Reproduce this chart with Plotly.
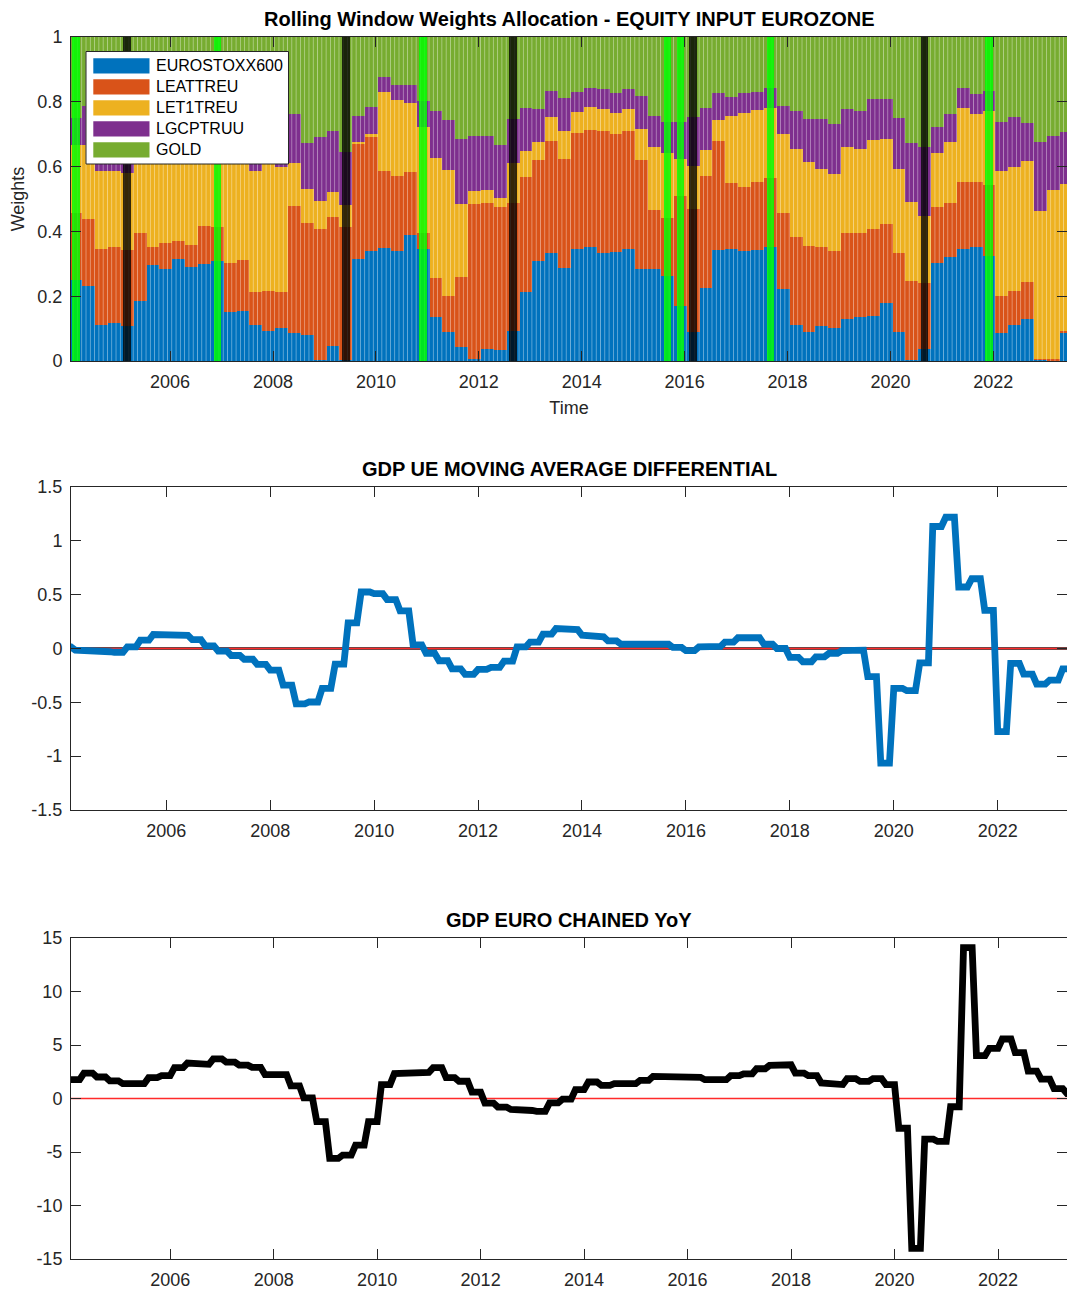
import numpy as np
import pandas as pd
import plotly.graph_objects as go

# ------------------------------------------------------------------
# Data
# ------------------------------------------------------------------
asset_names = ["EUROSTOXX600", "LEATTREU", "LET1TREU", "LGCPTRUU", "GOLD"]
asset_colors = ["#0072BD", "#D95319", "#EDB120", "#7E2F8E", "#77AC30"]

# quarterly rebalancing: each allocation is held three months (Feb-Apr, May-Jul, ...)
rebalance_dates = pd.date_range("2004-03-01", periods=78, freq="3MS")

w_eurostoxx600 = [
    0.250, 0.231, 0.111, 0.116, 0.109, 0.186, 0.295, 0.283, 0.314, 0.289,
    0.298, 0.308, 0.152, 0.155, 0.110, 0.094, 0.101, 0.085, 0.080, 0.003,
    0.046, 0.003, 0.315, 0.341, 0.348, 0.338, 0.388, 0.345, 0.135, 0.088,
    0.044, 0.005, 0.037, 0.034, 0.092, 0.214, 0.310, 0.334, 0.286, 0.345,
    0.353, 0.334, 0.337, 0.345, 0.285, 0.285, 0.263, 0.170, 0.091, 0.224,
    0.343, 0.345, 0.338, 0.343, 0.353, 0.221, 0.110, 0.091, 0.108, 0.103,
    0.131, 0.135, 0.139, 0.178, 0.088, 0.003, 0.037, 0.301, 0.322, 0.345,
    0.351, 0.325, 0.085, 0.111, 0.129, 0.004, 0.003, 0.087,
]
w_leattreu = [
    0.208, 0.208, 0.235, 0.237, 0.234, 0.210, 0.058, 0.080, 0.055, 0.068,
    0.119, 0.107, 0.151, 0.157, 0.104, 0.123, 0.112, 0.394, 0.345, 0.403,
    0.397, 0.412, 0.357, 0.353, 0.239, 0.234, 0.196, 0.051, 0.120, 0.114,
    0.216, 0.480, 0.452, 0.442, 0.395, 0.355, 0.310, 0.346, 0.338, 0.360,
    0.360, 0.376, 0.363, 0.365, 0.336, 0.181, 0.179, 0.340, 0.378, 0.348,
    0.336, 0.205, 0.200, 0.210, 0.211, 0.237, 0.274, 0.265, 0.245, 0.237,
    0.263, 0.259, 0.267, 0.245, 0.244, 0.245, 0.205, 0.173, 0.167, 0.208,
    0.202, 0.218, 0.117, 0.106, 0.116, 0.002, 0.002, 0.006,
]
w_let1treu = [
    0.209, 0.228, 0.241, 0.234, 0.236, 0.244, 0.287, 0.277, 0.281, 0.283,
    0.233, 0.245, 0.337, 0.328, 0.373, 0.403, 0.387, 0.131, 0.105, 0.089,
    0.080, 0.066, 0.004, 0.006, 0.242, 0.234, 0.211, 0.327, 0.372, 0.388,
    0.225, 0.040, 0.039, 0.027, 0.125, 0.080, 0.057, 0.074, 0.085, 0.065,
    0.070, 0.067, 0.066, 0.069, 0.096, 0.196, 0.199, 0.113, 0.133, 0.079,
    0.065, 0.206, 0.228, 0.222, 0.216, 0.242, 0.271, 0.258, 0.241, 0.237,
    0.265, 0.259, 0.276, 0.263, 0.260, 0.242, 0.207, 0.167, 0.188, 0.229,
    0.209, 0.229, 0.385, 0.383, 0.373, 0.458, 0.523, 0.453,
]
w_lgcptruu = [
    0.082, 0.120, 0.163, 0.163, 0.171, 0.110, 0.100, 0.100, 0.100, 0.100,
    0.100, 0.100, 0.110, 0.110, 0.153, 0.120, 0.140, 0.151, 0.142, 0.197,
    0.188, 0.165, 0.079, 0.083, 0.049, 0.046, 0.057, 0.079, 0.146, 0.154,
    0.201, 0.169, 0.166, 0.164, 0.135, 0.133, 0.101, 0.080, 0.103, 0.060,
    0.061, 0.063, 0.062, 0.061, 0.102, 0.094, 0.098, 0.116, 0.152, 0.131,
    0.082, 0.060, 0.060, 0.056, 0.062, 0.087, 0.118, 0.132, 0.152, 0.154,
    0.120, 0.120, 0.126, 0.124, 0.157, 0.184, 0.210, 0.080, 0.084, 0.060,
    0.061, 0.062, 0.152, 0.154, 0.116, 0.211, 0.167, 0.162,
]
w_gold = [
    0.251, 0.213, 0.250, 0.250, 0.250, 0.250, 0.260, 0.260, 0.250, 0.260,
    0.250, 0.240, 0.250, 0.250, 0.260, 0.260, 0.260, 0.239, 0.328, 0.308,
    0.289, 0.354, 0.245, 0.217, 0.122, 0.148, 0.148, 0.198, 0.227, 0.256,
    0.314, 0.306, 0.306, 0.333, 0.253, 0.218, 0.222, 0.166, 0.188, 0.170,
    0.156, 0.160, 0.172, 0.160, 0.181, 0.244, 0.261, 0.261, 0.246, 0.218,
    0.174, 0.184, 0.174, 0.169, 0.158, 0.213, 0.227, 0.254, 0.254, 0.269,
    0.221, 0.227, 0.192, 0.190, 0.251, 0.326, 0.341, 0.279, 0.239, 0.158,
    0.177, 0.166, 0.261, 0.246, 0.266, 0.326, 0.305, 0.292,
]

# months flagged by the regime signal
green_signal_dates = ["2004-03", "2006-12", "2010-12", "2015-09", "2015-12", "2017-09", "2021-12"]
black_signal_dates = ["2005-03", "2009-06", "2012-09", "2016-03", "2020-09"]

# quarterly GDP indicators, 2004Q1 .. 2023Q2 (monthly observations hold the quarter's value)
gdp_quarters = pd.period_range("2004Q1", periods=78, freq="Q")
gdp_ue_ma_diff = [
    0.015, -0.015, -0.030, -0.030, -0.035, 0.015, 0.077, 0.130, 0.127, 0.123,
    0.083, 0.025, -0.025, -0.065, -0.100, -0.148, -0.200, -0.340, -0.515, -0.497,
    -0.370, -0.145, 0.238, 0.525, 0.509, 0.454, 0.349, 0.034, -0.046, -0.114,
    -0.190, -0.240, -0.194, -0.176, -0.117, 0.015, 0.060, 0.133, 0.185, 0.175,
    0.123, 0.108, 0.070, 0.040, 0.045, 0.050, 0.040, 0.010, -0.020, 0.015,
    0.020, 0.060, 0.100, 0.100, 0.040, 0.000, -0.083, -0.123, -0.077, -0.046,
    -0.020, -0.015, -0.262, -1.065, -0.370, -0.392, -0.133, 1.133, 1.219, 0.571,
    0.648, 0.355, -0.772, -0.139, -0.238, -0.330, -0.293, -0.190,
]
gdp_euro_yoy = [
    1.76, 2.38, 2.01, 1.64, 1.39, 1.39, 1.95, 2.13, 2.88, 3.31,
    3.19, 3.71, 3.40, 3.12, 2.91, 2.23, 2.23, 1.18, 0.06, -2.17,
    -5.60, -5.29, -4.36, -2.17, 1.30, 2.32, 2.32, 2.44, 2.88, 1.95,
    1.61, 0.59, -0.43, -0.80, -1.02, -1.12, -1.20, -0.40, -0.06, 0.83,
    1.54, 1.23, 1.39, 1.39, 1.70, 2.07, 1.94, 2.00, 1.98, 1.76,
    1.76, 2.13, 2.31, 2.78, 3.09, 3.15, 2.38, 2.13, 1.45, 1.30,
    1.85, 1.60, 1.85, 1.30, -2.78, -14.00, -3.80, -4.01, -0.77, 14.10,
    4.01, 4.69, 5.56, 4.29, 2.56, 1.82, 0.93, 0.46,
]
# the YoY series is published one month after the differential
yoy_lag_months = 1

year_ticks = list(range(2006, 2023, 2))
year_labels = [str(y) for y in year_ticks]
w_ticks = [0, 0.2, 0.4, 0.6, 0.8, 1]
w_labels = ["0", "0.2", "0.4", "0.6", "0.8", "1"]
diff_ticks = [-1.5, -1, -0.5, 0, 0.5, 1, 1.5]
diff_labels = ["-1.5", "-1", "-0.5", "0", "0.5", "1", "1.5"]
yoy_ticks = [-15, -10, -5, 0, 5, 10, 15]
yoy_labels = ["-15", "-10", "-5", "0", "5", "10", "15"]

titles = ["Rolling Window Weights Allocation - EQUITY INPUT EUROZONE",
          "GDP UE MOVING AVERAGE DIFFERENTIAL",
          "GDP EURO CHAINED YoY"]


def dec_year(ts):
    ts = pd.Timestamp(ts)
    return ts.year + (ts.month - 1) / 12.0


def quarterly_steps(quarters, values, lag_months=0):
    """First and last month of every quarter carry the quarter's value."""
    xs, ys = [], []
    for q, v in zip(quarters, values):
        first = dec_year(q.start_time) + lag_months / 12.0
        xs += [first, first + 2 / 12.0]
        ys += [v, v]
    return xs, ys


# ------------------------------------------------------------------
# Layout geometry (pixels)
# ------------------------------------------------------------------
W, H = 1067, 1289
ML, MR, MT, MB = 71, 0, 37, 30
PLOT_W = W - ML - MR
PLOT_H = H - MT - MB
rows_px = [(37, 361), (487, 810), (938, 1259)]


def y_domain(top, bottom):
    base = H - MB
    return [(base - bottom) / PLOT_H, (base - top) / PLOT_H]


FONT = "Liberation Sans, Arial, Helvetica, sans-serif"
INK = "#262626"

fig = go.Figure()

# ---- panel 1: stacked weights ------------------------------------
x_bars = [dec_year(d) for d in rebalance_dates]
stack_base = np.zeros(len(x_bars))
for name, color, w in zip(asset_names, asset_colors,
                          [w_eurostoxx600, w_leattreu, w_let1treu, w_lgcptruu, w_gold]):
    w = np.asarray(w, dtype=float)
    fig.add_trace(go.Bar(
        x=x_bars, y=w, base=stack_base.copy(), width=0.25, name=name,
        marker=dict(color=color, line=dict(width=0),
                    pattern=dict(shape="|", fillmode="overlay", fgcolor="white",
                                 fgopacity=0.42, size=51.45 / 12, solidity=0.2)),
        xaxis="x", yaxis="y", showlegend=False, hoverinfo="skip",
    ))
    stack_base = stack_base + w

for dates, color, alpha in [(green_signal_dates, "#00ff00", 0.82),
                            (black_signal_dates, "#000000", 0.78)]:
    xs = [dec_year(d) for d in dates]
    fig.add_trace(go.Bar(
        x=xs, y=[1.0] * len(xs), base=0, width=0.145,
        marker=dict(color=color, line=dict(width=0)), opacity=alpha,
        xaxis="x", yaxis="y", showlegend=False, hoverinfo="skip",
    ))

# ---- panel 2: GDP moving-average differential --------------------
x_diff, y_diff = quarterly_steps(gdp_quarters, gdp_ue_ma_diff)
fig.add_trace(go.Scatter(
    x=x_diff, y=y_diff, mode="lines",
    line=dict(color="#0072BD", width=6.8),
    xaxis="x2", yaxis="y2", showlegend=False,
))

# ---- panel 3: GDP YoY ---------------------------------------------
x_yoy, y_yoy = quarterly_steps(gdp_quarters, gdp_euro_yoy, yoy_lag_months)
fig.add_trace(go.Scatter(
    x=x_yoy, y=y_yoy, mode="lines",
    line=dict(color="#000000", width=6.8),
    xaxis="x3", yaxis="y3", showlegend=False,
))

# ------------------------------------------------------------------
# Axes
# ------------------------------------------------------------------
axis_style = dict(
    showline=True, linecolor=INK, linewidth=1, mirror="ticks",
    ticks="inside", ticklen=10, tickwidth=1, tickcolor=INK,
    showgrid=False, zeroline=False,
    tickfont=dict(family=FONT, size=18, color=INK),
)
x_ranges = [[2004.074, 2023.432], [2004 + 2 / 12, 2023 + 4 / 12], [2004 + 1 / 12, 2023 + 4 / 12]]

layout_axes = {}
for i, (rng, (top, bottom)) in enumerate(zip(x_ranges, rows_px), start=1):
    sfx = "" if i == 1 else str(i)
    layout_axes["xaxis" + sfx] = dict(
        axis_style, domain=[0, 1], range=rng, anchor="y" + sfx,
        tickmode="array", tickvals=year_ticks, ticktext=year_labels,
        ticklabelstandoff=4,
    )
    layout_axes["yaxis" + sfx] = dict(axis_style, domain=y_domain(top, bottom), anchor="x" + sfx,
                                      ticklabelstandoff=4)

layout_axes["yaxis"].update(range=[0, 1], tickmode="array", tickvals=w_ticks, ticktext=w_labels,
                            title=dict(text="Weights", standoff=8,
                                       font=dict(family=FONT, size=18, color=INK)))
layout_axes["xaxis"].update(title=dict(text="Time", standoff=10,
                                       font=dict(family=FONT, size=18, color=INK)))
layout_axes["yaxis2"].update(range=[-1.5, 1.5], tickmode="array", tickvals=diff_ticks, ticktext=diff_labels)
layout_axes["yaxis3"].update(range=[-15, 15], tickmode="array", tickvals=yoy_ticks, ticktext=yoy_labels)

# ------------------------------------------------------------------
# Reference lines, legend box and titles
# ------------------------------------------------------------------
shapes = [
    dict(type="line", xref="x2 domain", yref="y2", x0=0, x1=1, y0=0, y1=0,
         line=dict(color="black", width=2.8), opacity=0.7, layer="below"),
    dict(type="line", xref="x2 domain", yref="y2", x0=0, x1=1, y0=0, y1=0,
         line=dict(color="#ff2a2a", width=1.3), layer="below"),
    dict(type="line", xref="x3 domain", yref="y3", x0=0, x1=1, y0=0, y1=0,
         line=dict(color="#ff2a2a", width=1.3), layer="below"),
]

annotations = []


def dom_x(px):
    return (px - ML) / PLOT_W


def dom_y_top(py):
    top, bottom = rows_px[0]
    return (bottom - py) / (bottom - top)


# legend drawn as a boxed key in the upper-left corner of the weights panel
shapes.append(dict(type="rect", xref="x domain", yref="y domain",
                   x0=dom_x(86), x1=dom_x(288.5), y0=dom_y_top(164), y1=dom_y_top(51.5),
                   fillcolor="white", line=dict(color=INK, width=1), layer="above"))
for i, (name, color) in enumerate(zip(asset_names, asset_colors)):
    cy = 65.8 + 21.0 * i
    shapes.append(dict(type="rect", xref="x domain", yref="y domain",
                       x0=dom_x(93.3), x1=dom_x(149.5), y0=dom_y_top(cy + 7.6), y1=dom_y_top(cy - 7.6),
                       fillcolor=color, line=dict(width=0), layer="above"))
    annotations.append(dict(xref="x domain", yref="y domain", x=dom_x(154), y=dom_y_top(cy),
                            xanchor="left", yanchor="middle", text=name, showarrow=False,
                            font=dict(family=FONT, size=16, color="black")))

for i, title in enumerate(titles, start=1):
    sfx = "" if i == 1 else str(i)
    annotations.append(dict(xref=f"x{sfx} domain", yref=f"y{sfx} domain", x=0.5, y=1,
                            xanchor="center", yanchor="bottom", yshift=5, text=title,
                            showarrow=False,
                            font=dict(family=FONT, size=20, color="black", weight="bold")))

fig.update_layout(
    width=W, height=H,
    margin=dict(l=ML, r=MR, t=MT, b=MB),
    paper_bgcolor="white", plot_bgcolor="white",
    barmode="overlay", bargap=0,
    showlegend=False,
    font=dict(family=FONT, color=INK),
    shapes=shapes, annotations=annotations,
    **layout_axes,
)

fig.write_html("out.html")
